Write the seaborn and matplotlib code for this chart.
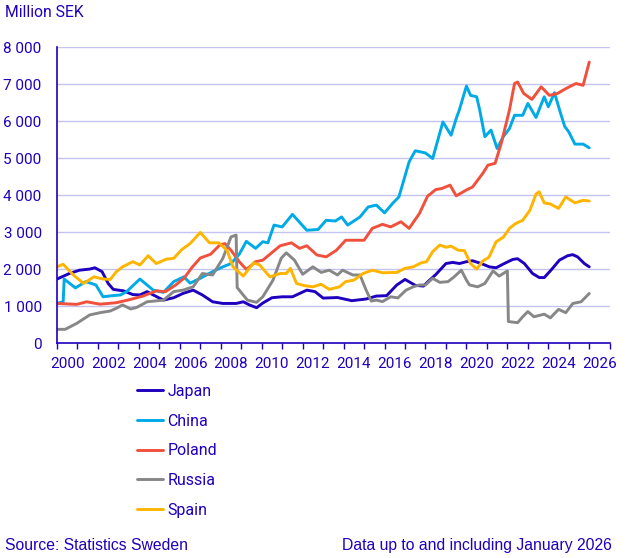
import pandas as pd
import seaborn as sns
import matplotlib.pyplot as plt
from matplotlib.ticker import FuncFormatter, MultipleLocator, FixedLocator

# values (year, million SEK)
japan_years = [2000.0, 2000.6, 2001.1, 2001.6, 2001.85, 2002.2, 2002.5, 2002.75, 2003.25, 2003.7,
               2004.05, 2004.4, 2004.7, 2005.2, 2005.7, 2006.15, 2006.65, 2007.1, 2007.6, 2008.1,
               2008.75, 2009.1, 2009.4, 2009.75, 2010.05, 2010.5, 2011.0, 2011.5, 2012.2, 2012.6,
               2013.0, 2013.7, 2014.4, 2015.1, 2015.6, 2016.1, 2016.6, 2017.0, 2017.5, 2017.9,
               2018.2, 2018.5, 2019.0, 2019.33, 2019.66, 2020.0, 2020.3, 2020.72, 2021.12, 2021.45,
               2021.85, 2022.26, 2022.5, 2022.83, 2023.23, 2023.56, 2023.8, 2024.13, 2024.54, 2024.94,
               2025.19, 2025.43, 2025.76, 2026.0]
japan = [1730, 1880, 1970, 2000, 2035, 1930, 1610, 1450, 1410, 1310,
         1300, 1390, 1300, 1160, 1225, 1340, 1430, 1300, 1115, 1070,
         1070, 1115, 1030, 955, 1080, 1225, 1250, 1250, 1430, 1390,
         1215, 1230, 1145, 1190, 1270, 1280, 1570, 1720, 1560, 1540,
         1700, 1850, 2150, 2180, 2150, 2200, 2225, 2150, 2060, 2035,
         2150, 2260, 2280, 2150, 1880, 1770, 1770, 1970, 2240, 2360,
         2390, 2330, 2150, 2060]

china_years = [2000.0, 2000.3, 2000.35, 2000.9, 2001.4, 2001.9, 2002.25, 2002.7, 2003.1, 2003.4,
               2004.05, 2004.7, 2005.2, 2005.7, 2006.2, 2006.5, 2007.0, 2007.6, 2008.1, 2008.5,
               2008.9, 2009.25, 2009.7, 2010.05, 2010.3, 2010.6, 2011.0, 2011.5, 2012.2, 2012.75,
               2013.15, 2013.6, 2013.9, 2014.2, 2014.8, 2015.2, 2015.6, 2016.0, 2016.4, 2016.7,
               2017.2, 2017.5, 2018.0, 2018.35, 2018.85, 2019.25, 2019.5, 2019.65, 2020.0, 2020.2,
               2020.5, 2020.65, 2020.9, 2021.2, 2021.5, 2021.8, 2022.1, 2022.35, 2022.75, 2023.0,
               2023.4, 2023.8, 2024.0, 2024.3, 2024.6, 2024.8, 2025.0, 2025.3, 2025.7, 2026.0]
china = [1070, 1115, 1730, 1490, 1660, 1570, 1250, 1280, 1300, 1390,
         1730, 1430, 1370, 1660, 1790, 1620, 1750, 1930, 2060, 2150,
         2400, 2750, 2560, 2740, 2710, 3190, 3140, 3480, 3050, 3070,
         3320, 3300, 3410, 3190, 3410, 3680, 3730, 3520, 3780, 3950,
         4900, 5200, 5140, 4990, 5980, 5620, 6070, 6300, 6950, 6700,
         6660, 6300, 5580, 5760, 5260, 5580, 5800, 6160, 6160, 6480,
         6100, 6660, 6390, 6770, 6210, 5860, 5710, 5380, 5380, 5280]

poland_years = [2000.0, 2000.96, 2001.45, 2002.1, 2002.9, 2003.6, 2004.2, 2004.85, 2005.3, 2005.8,
                2006.2, 2006.6, 2007.0, 2007.5, 2007.95, 2008.2, 2008.5, 2008.9, 2009.25, 2009.7,
                2010.05, 2010.9, 2011.45, 2011.85, 2012.2, 2012.7, 2013.15, 2013.65, 2014.1, 2014.6,
                2015.0, 2015.4, 2015.9, 2016.3, 2016.8, 2017.2, 2017.7, 2018.1, 2018.5, 2018.8,
                2019.2, 2019.5, 2020.0, 2020.3, 2020.8, 2021.05, 2021.4, 2021.7, 2022.1, 2022.35,
                2022.5, 2022.8, 2023.2, 2023.65, 2024.05, 2024.45, 2024.85, 2025.35, 2025.7, 2026.0]
poland = [1070, 1045, 1115, 1050, 1090, 1180, 1270, 1410, 1390, 1570,
          1750, 2050, 2300, 2400, 2650, 2690, 2510, 2200, 1990, 2200,
          2240, 2630, 2710, 2560, 2630, 2380, 2330, 2510, 2780, 2780,
          2780, 3100, 3210, 3140, 3280, 3100, 3500, 3970, 4150, 4180,
          4270, 3980, 4140, 4220, 4590, 4810, 4860, 5400, 6300, 7020,
          7060, 6750, 6590, 6930, 6700, 6750, 6880, 7020, 6970, 7600]

russia_years = [2000.0, 2000.4, 2000.96, 2001.6, 2002.1, 2002.6, 2002.9, 2003.2, 2003.6, 2003.9,
                2004.4, 2005.2, 2005.7, 2006.15, 2006.65, 2007.1, 2007.6, 2008.1, 2008.5, 2008.75,
                2008.8, 2009.3, 2009.75, 2010.05, 2010.55, 2010.95, 2011.2, 2011.6, 2012.0, 2012.5,
                2012.9, 2013.3, 2013.7, 2013.95, 2014.45, 2014.8, 2015.1, 2015.35, 2015.6, 2015.9,
                2016.3, 2016.65, 2017.05, 2017.4, 2017.7, 2018.0, 2018.35, 2018.7, 2019.1, 2019.4,
                2019.75, 2020.0, 2020.15, 2020.55, 2020.9, 2021.3, 2021.6, 2022.0, 2022.05, 2022.5,
                2022.75, 2023.0, 2023.3, 2023.8, 2024.1, 2024.5, 2024.85, 2025.2, 2025.6, 2026.0]
russia = [370, 370, 530, 760, 820, 865, 940, 1030, 920, 965,
          1115, 1160, 1390, 1430, 1520, 1880, 1840, 2290, 2870, 2920,
          1500, 1160, 1100, 1250, 1700, 2290, 2440, 2240, 1860, 2060,
          1910, 1970, 1840, 1970, 1840, 1840, 1430, 1135, 1160, 1120,
          1250, 1220, 1430, 1520, 1570, 1570, 1750, 1640, 1660, 1790,
          1970, 1700, 1570, 1520, 1610, 1950, 1810, 1950, 580, 550,
          710, 850, 710, 780, 680, 910, 820, 1070, 1115, 1340]

spain_years = [2000.0, 2000.3, 2000.8, 2001.3, 2001.8, 2002.25, 2002.6, 2002.9, 2003.2, 2003.7,
               2004.05, 2004.45, 2004.85, 2005.35, 2005.7, 2006.1, 2006.5, 2007.0, 2007.45, 2007.9,
               2008.3, 2008.6, 2009.1, 2009.6, 2009.9, 2010.4, 2010.9, 2011.2, 2011.4, 2011.7,
               2012.1, 2012.5, 2012.9, 2013.3, 2013.8, 2014.1, 2014.5, 2014.95, 2015.4, 2015.9,
               2016.6, 2017.0, 2017.4, 2017.8, 2018.05, 2018.35, 2018.7, 2019.0, 2019.25, 2019.6,
               2019.9, 2020.2, 2020.5, 2020.8, 2021.1, 2021.45, 2021.8, 2022.1, 2022.4, 2022.75,
               2023.1, 2023.4, 2023.55, 2023.8, 2024.1, 2024.5, 2024.85, 2025.3, 2025.7, 2026.0]
spain = [2060, 2130, 1840, 1610, 1790, 1730, 1720, 1930, 2060, 2200,
         2110, 2360, 2150, 2270, 2290, 2530, 2690, 2990, 2710, 2710,
         2510, 2060, 1810, 2170, 2110, 1790, 1880, 1880, 2020, 1610,
         1550, 1520, 1590, 1450, 1520, 1660, 1700, 1880, 1970, 1900,
         1910, 2020, 2060, 2170, 2200, 2470, 2650, 2590, 2620, 2510,
         2500, 2150, 2000, 2220, 2320, 2740, 2860, 3100, 3230, 3320,
         3590, 4030, 4090, 3790, 3760, 3640, 3950, 3790, 3860, 3840]

countries = ["Japan", "China", "Poland", "Russia", "Spain"]
colors = ["#1e00be", "#00aae6", "#f0503c", "#878787", "#ffb400"]
year_labels = list(range(2000, 2027, 2))

INK = "#1e00be"

frames = []
for name, yrs, vals in zip(countries,
                           [japan_years, china_years, poland_years, russia_years, spain_years],
                           [japan, china, poland, russia, spain]):
    frames.append(pd.DataFrame({"year": yrs, "value": vals, "country": name}))
data = pd.concat(frames, ignore_index=True)

sns.set_theme(style="white")
plt.rcParams["font.family"] = ["Roboto", "DejaVu Sans"]

fig = plt.figure(figsize=(6.35, 5.58), dpi=100)
ax = fig.add_axes([0.0898, 0.3853, 0.8704, 0.530])

sns.lineplot(data=data, x="year", y="value", hue="country", hue_order=countries,
             palette=colors, estimator=None, sort=False, linewidth=2.1, ax=ax)

ax.set_xlim(2000, 2027)
ax.set_ylim(0, 8000)
# tick marks every year, labels sit in the middle of the year
ax.xaxis.set_minor_locator(MultipleLocator(1))
ax.xaxis.set_major_locator(FixedLocator([y + 0.5 for y in year_labels]))
ax.xaxis.set_major_formatter(FuncFormatter(lambda v, p: str(int(v))))
ax.yaxis.set_major_locator(MultipleLocator(1000))
ax.yaxis.set_major_formatter(FuncFormatter(lambda v, p: f"{int(v):,}".replace(",", " ")))

ax.grid(axis="y", color="#c4c4ee", linewidth=1.0)
ax.grid(axis="x", visible=False)
ax.set_axisbelow(True)
for s in ["top", "right"]:
    ax.spines[s].set_visible(False)
for s in ["left", "bottom"]:
    ax.spines[s].set_color(INK)
    ax.spines[s].set_linewidth(1.2)

ax.tick_params(axis="both", which="both", colors=INK, labelcolor=INK, labelsize=11,
               direction="out", length=4, width=1.0)
ax.tick_params(axis="y", pad=7)
ax.tick_params(axis="x", which="major", length=0, pad=10)
ax.tick_params(axis="x", which="minor", bottom=True, length=4)
ax.set_xlabel("")
ax.set_ylabel("")

handles, labels = ax.get_legend_handles_labels()
ax.legend(handles, labels, loc="upper left", bbox_to_anchor=(0.2157, 0.312),
          bbox_transform=fig.transFigure, frameon=False, fontsize=11.5,
          labelcolor=INK, handlelength=1.6, handletextpad=0.3, labelspacing=0.92,
          borderpad=0, borderaxespad=0)

fig.text(0.008, 0.977, "Million SEK", color=INK, fontsize=11.3, va="center", ha="left")
fig.text(0.008, 0.023, "Source: Statistics Sweden", color=INK, fontsize=11.3,
         family=["Liberation Sans", "DejaVu Sans"], va="center", ha="left")
fig.text(0.964, 0.023, "Data up to and including January 2026", color=INK, fontsize=11.3,
         family=["Liberation Sans", "DejaVu Sans"], va="center", ha="right")

fig.savefig("out.png", dpi=100)
